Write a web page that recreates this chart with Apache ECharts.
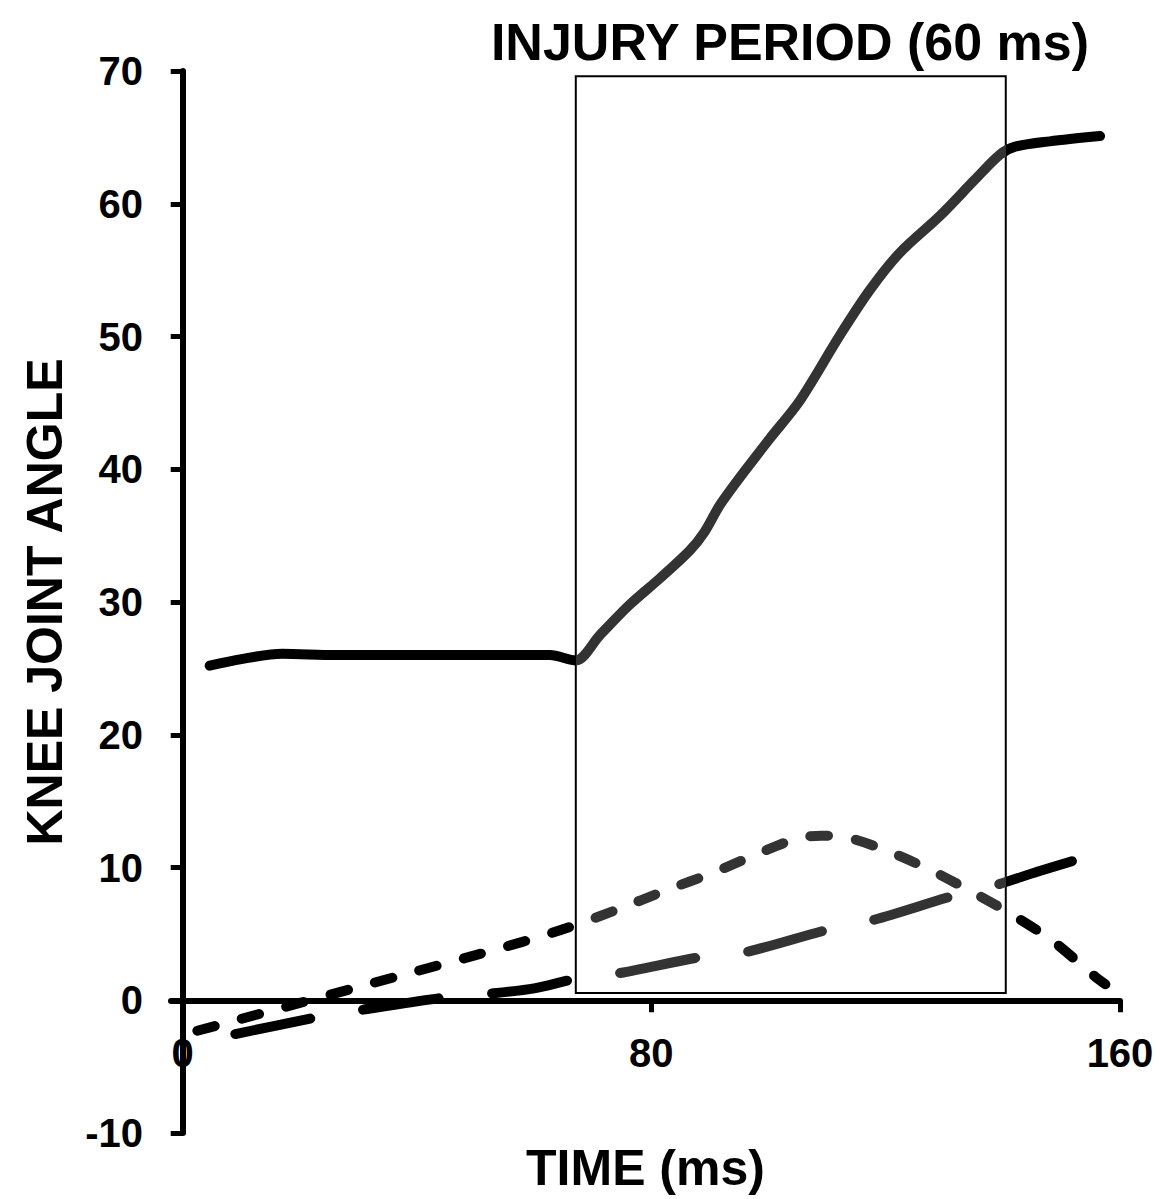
<!DOCTYPE html>
<html>
<head>
<meta charset="utf-8">
<title>Knee joint angle</title>
<script src="https://cdn.jsdelivr.net/npm/echarts@6/dist/echarts.min.js"></script>
<style>
  html, body { margin: 0; padding: 0; background: #fff; }
  #main { width: 1160px; height: 1199px; }
</style>
</head>
<body>
<div id="main"></div>
<script>
// knee joint angle vs time (ms), three traces
var flexionTime  = [4.6, 10, 17, 26, 40, 55, 62.7, 67.1, 71.2, 76.3, 81.5, 86.6, 89.1, 91.7, 96.0, 100.2, 105.4, 112.2, 117.3, 122.4, 129.3, 135.2, 139.5, 142.1, 148, 156.6];
var flexionAngle = [25.2, 25.7, 26.1, 26.0, 26.0, 26.0, 26.0, 25.6, 27.5, 29.8, 31.8, 33.9, 35.3, 37.3, 39.9, 42.3, 45.2, 50.1, 53.5, 56.3, 59.1, 61.8, 63.7, 64.3, 64.7, 65.1];

var shortDashTime  = [2.5, 10, 20, 30, 40, 50, 58, 65.3, 74, 82.6, 90.5, 98.5, 105, 109, 113, 120, 127.7, 135, 141, 148.4, 155.7, 157.5];
var shortDashAngle = [-2.3, -1.4, -0.2, 1.0, 2.2, 3.4, 4.4, 5.4, 6.8, 8.3, 9.6, 11.1, 12.2, 12.4, 12.3, 11.3, 9.8, 8.1, 6.6, 4.5, 1.8, 1.2];

var longDashTime  = [7, 8.4, 22.7, 30.2, 44.7, 52.6, 60, 67, 74, 89, 95.8, 110, 117.5, 131.8, 139, 146, 153.5];
var longDashAngle = [-2.7, -2.6, -1.3, -0.75, 0.2, 0.5, 0.9, 1.6, 2.0, 3.3, 3.6, 5.3, 6.0, 7.9, 8.7, 9.7, 10.7];

// injury period box
var injuryStart = 67.1, injuryEnd = 140.5;
var injuryLow = 0.55, injuryHigh = 69.6;

var xLabels = [0, 80, 160];
var xTicks = [80, 160];

function pairs(xs, ys) {
    return xs.map(function (x, i) { return [x, ys[i]]; });
}

var font = 'Liberation Sans, Arial, sans-serif';

var chart = echarts.init(document.getElementById('main'), null, { renderer: 'svg' });

var option = {
    animation: false,
    backgroundColor: '#fff',
    grid: { left: 171, right: 40, top: 71, bottom: 66, outerBoundsMode: 'none' },
    graphic: [{
        type: 'text',
        x: 790,
        y: 42,
        style: {
            text: 'INJURY PERIOD (60 ms)',
            fill: '#000',
            fontSize: 52,
            fontWeight: 'bold',
            fontFamily: font,
            align: 'center',
            verticalAlign: 'middle'
        }
    }],
    visualMap: {
        show: false,
        type: 'piecewise',
        dimension: 0,
        seriesIndex: [0, 1, 2],
        pieces: [
            { lt: injuryStart, color: '#000' },
            { gte: injuryStart, lte: injuryEnd, color: '#333' },
            { gt: injuryEnd, color: '#000' }
        ]
    },
    xAxis: {
        type: 'value',
        min: -2,
        max: 160,
        name: 'TIME (ms)',
        nameLocation: 'middle',
        nameGap: 10,
        nameTextStyle: { fontSize: 50, fontWeight: 'bold', color: '#000', fontFamily: font },
        axisLine: { onZero: true, lineStyle: { color: '#000', width: 6 } },
        axisTick: { show: true, customValues: xTicks, length: 12, lineStyle: { color: '#000', width: 5 } },
        // labels sit at the grid bottom, pull them up to just under the zero line
        axisLabel: { customValues: xLabels, margin: -100, fontSize: 40, fontWeight: 'bold', color: '#000', fontFamily: font },
        splitLine: { show: false }
    },
    yAxis: {
        type: 'value',
        min: -10,
        max: 70,
        interval: 10,
        name: 'KNEE JOINT ANGLE',
        nameLocation: 'middle',
        nameGap: 101,
        nameTextStyle: { fontSize: 50, fontWeight: 'bold', color: '#000', fontFamily: font },
        axisLine: { show: true, onZero: true, lineStyle: { color: '#000', width: 6 } },
        axisTick: { show: true, length: 12, lineStyle: { color: '#000', width: 5 } },
        axisLabel: { margin: 28, fontSize: 40, fontWeight: 'bold', color: '#000', fontFamily: font },
        splitLine: { show: false }
    },
    series: [
        {
            name: 'flexion',
            type: 'line',
            data: pairs(flexionTime, flexionAngle),
            showSymbol: false,
            symbol: 'none',
            smooth: 0.3,
            lineStyle: { width: 10, cap: 'round', join: 'round' },
            markArea: {
                silent: true,
                itemStyle: { color: 'rgba(0,0,0,0)', borderColor: '#000', borderWidth: 2 },
                data: [[{ coord: [injuryStart, injuryLow] }, { coord: [injuryEnd, injuryHigh] }]]
            },
            z: 3
        },
        {
            name: 'short dash',
            type: 'line',
            data: pairs(shortDashTime, shortDashAngle),
            showSymbol: false,
            symbol: 'none',
            smooth: 0.3,
            lineStyle: { width: 10, type: [18, 28], cap: 'round' },
            z: 2
        },
        {
            name: 'long dash',
            type: 'line',
            data: pairs(longDashTime, longDashAngle),
            showSymbol: false,
            symbol: 'none',
            smooth: 0.3,
            lineStyle: { width: 10, type: [76, 54], dashOffset: 118, cap: 'round' },
            z: 2
        }
    ]
};

chart.setOption(option);
</script>
</body>
</html>
